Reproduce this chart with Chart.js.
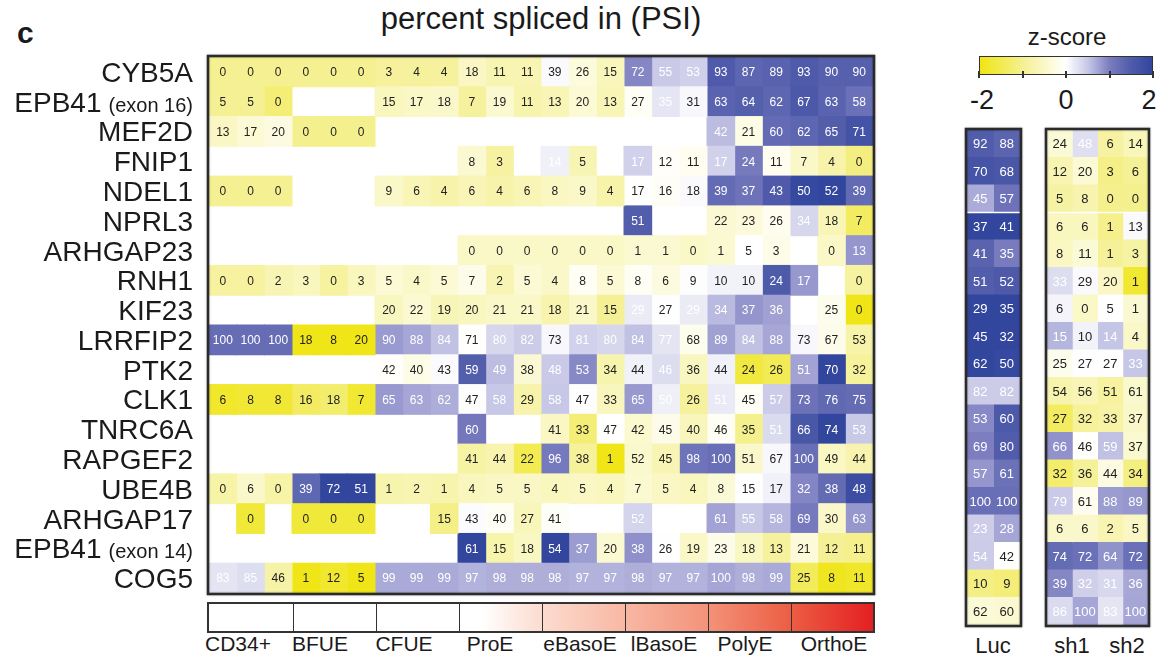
<!DOCTYPE html>
<html>
<head>
<meta charset="utf-8">
<script src="https://cdn.jsdelivr.net/npm/chart.js@4.4.1/dist/chart.umd.min.js"></script>
<style>
  body { margin: 0; background: #fff; font-family: "Liberation Sans", Arial, sans-serif; color: #1a1a1a; }
  #wrap { position: relative; width: 1157px; height: 656px; overflow: hidden; }
  .abs { position: absolute; white-space: nowrap; }
  canvas { position: absolute; }
</style>
</head>
<body>
<div id="wrap">
  <div class="abs" style="left:17px;top:18px;font-size:30px;line-height:30px;font-weight:bold">c</div>
  <div class="abs" style="left:291px;width:500px;top:3px;text-align:center;font-size:31px;line-height:31px">percent spliced in (PSI)</div>

  <canvas id="main" width="900" height="600" style="left:0;top:0;width:900px;height:600px"></canvas>
  <canvas id="luc" width="67" height="509" style="left:960px;top:123px;width:67px;height:509px"></canvas>
  <canvas id="sh" width="117" height="509" style="left:1040px;top:123px;width:117px;height:509px"></canvas>

  <div id="zbar" class="abs" style="left:979px;top:56px;width:174px;height:19px;box-sizing:border-box;border:1.5px solid #333"></div>
  <div id="zticks"></div>
  <div class="abs" style="left:1017px;width:100px;top:25px;text-align:center;font-size:24px;line-height:24px">z-score</div>

  <div id="stagebar" class="abs" style="left:207px;top:602px;width:668px;height:31px;box-sizing:border-box;border:2px solid #333"></div>
  <div id="stagelabels"></div>
  <div class="abs" style="left:953px;width:80px;top:634px;text-align:center;font-size:22px;line-height:24px">Luc</div>
  <div class="abs" style="left:1042px;width:60px;top:634px;text-align:center;font-size:22px;line-height:24px">sh1</div>
  <div class="abs" style="left:1097px;width:60px;top:634px;text-align:center;font-size:22px;line-height:24px">sh2</div>
</div>

<script>
const n = null;

// PSI per gene, columns = 8 stages x 3 replicates
const CYB5A      = [0,0,0, 0,0,0, 3,4,4, 18,11,11, 39,26,15, 72,55,53, 93,87,89, 93,90,90];
const EPB41_ex16 = [5,5,0, n,n,n, 15,17,18, 7,19,11, 13,20,13, 27,35,31, 63,64,62, 67,63,58];
const MEF2D      = [13,17,20, 0,0,0, n,n,n, n,n,n, n,n,n, n,n,n, 42,21,60, 62,65,71];
const FNIP1      = [n,n,n, n,n,n, n,n,n, 8,3,n, 14,5,n, 17,12,11, 17,24,11, 7,4,0];
const NDEL1      = [0,0,0, n,n,n, 9,6,4, 6,4,6, 8,9,4, 17,16,18, 39,37,43, 50,52,39];
const NPRL3      = [n,n,n, n,n,n, n,n,n, n,n,n, n,n,n, 51,n,n, 22,23,26, 34,18,7];
const ARHGAP23   = [n,n,n, n,n,n, n,n,n, 0,0,0, 0,0,0, 1,1,0, 1,5,3, n,0,13];
const RNH1       = [0,0,2, 3,0,3, 5,4,5, 7,2,5, 4,8,5, 8,6,9, 10,10,24, 17,n,0];
const KIF23      = [n,n,n, n,n,n, 20,22,19, 20,21,21, 18,21,15, 29,27,29, 34,37,36, n,25,0];
const LRRFIP2    = [100,100,100, 18,8,20, 90,88,84, 71,80,82, 73,81,80, 84,77,68, 89,84,88, 73,67,53];
const PTK2       = [n,n,n, n,n,n, 42,40,43, 59,49,38, 48,53,34, 44,46,36, 44,24,26, 51,70,32];
const CLK1       = [6,8,8, 16,18,7, 65,63,62, 47,58,29, 58,47,33, 65,50,26, 51,45,57, 73,76,75];
const TNRC6A     = [n,n,n, n,n,n, n,n,n, 60,n,n, 41,33,47, 42,45,40, 46,35,51, 66,74,53];
const RAPGEF2    = [n,n,n, n,n,n, n,n,n, 41,44,22, 96,38,1, 52,45,98, 100,51,67, 100,49,44];
const UBE4B      = [0,6,0, 39,72,51, 1,2,1, 4,5,5, 4,5,4, 7,5,4, 8,15,17, 32,38,48];
const ARHGAP17   = [n,0,n, 0,0,0, n,n,15, 43,40,27, 41,n,n, 52,n,n, 61,55,58, 69,30,63];
const EPB41_ex14 = [n,n,n, n,n,n, n,n,n, 61,15,18, 54,37,20, 38,26,19, 23,18,13, 21,12,11];
const COG5       = [83,85,46, 1,12,5, 99,99,99, 97,98,98, 98,97,97, 98,97,97, 100,98,99, 25,8,11];

const genes = ['CYB5A','EPB41','MEF2D','FNIP1','NDEL1','NPRL3','ARHGAP23','RNH1','KIF23',
               'LRRFIP2','PTK2','CLK1','TNRC6A','RAPGEF2','UBE4B','ARHGAP17','EPB41','COG5'];
const geneNotes = ['','(exon 16)','','','','','','','','','','','','','','','(exon 14)',''];
const psiRows = [CYB5A, EPB41_ex16, MEF2D, FNIP1, NDEL1, NPRL3, ARHGAP23, RNH1, KIF23,
                 LRRFIP2, PTK2, CLK1, TNRC6A, RAPGEF2, UBE4B, ARHGAP17, EPB41_ex14, COG5];

const stages = ['CD34+','BFUE','CFUE','ProE','eBasoE','lBasoE','PolyE','OrthoE'];

// knockdown panel (same gene order)
const luc = [[92,88],[70,68],[45,57],[37,41],[41,35],[51,52],[29,35],[45,32],[62,50],
             [82,82],[53,60],[69,80],[57,61],[100,100],[23,28],[54,42],[10,9],[62,60]];
const sh1 = [[24,48],[12,20],[5,8],[6,6],[8,11],[33,29],[6,0],[15,10],[25,27],
             [54,56],[27,32],[66,46],[32,36],[79,61],[6,6],[74,72],[39,32],[86,100]];
const sh2 = [[6,14],[3,6],[0,0],[1,13],[1,3],[20,1],[5,1],[14,4],[27,33],
             [51,61],[33,37],[59,37],[44,34],[88,89],[2,5],[64,72],[31,36],[83,100]];

const zTicks = [-2,-1,0,1,2];
const zTickLabels = ['-2','','0','','2'];

// label centres under the stage bar, as placed in the figure
const stageLabelX = [238, 320, 404, 490, 580, 664, 745, 834];

// colour ramps
const yellowStops = [[0,[255,255,255]],[0.5,[250,248,200]],[1,[245,240,148]],[1.5,[242,235,80]],[2,[240,229,22]]];
const blueStops   = [[0,[255,255,255]],[0.5,[200,200,231]],[1,[124,126,192]],[1.5,[80,92,170]],[2,[50,70,158]]];

function ramp(stops, t) {
  t = Math.max(0, Math.min(2, t));
  for (let i = 1; i < stops.length; i++) {
    if (t <= stops[i][0]) {
      const a = stops[i-1], b = stops[i];
      const f = (t - a[0]) / (b[0] - a[0]);
      const c = a[1].map((v, k) => Math.round(v + (b[1][k] - v) * f));
      return `rgb(${c[0]}, ${c[1]}, ${c[2]})`;
    }
  }
  const l = stops[stops.length-1][1];
  return `rgb(${l[0]}, ${l[1]}, ${l[2]})`;
}
function zColor(z) {
  return z < 0 ? ramp(yellowStops, -z) : ramp(blueStops, z);
}

// z-score per gene over every sample of that gene (stages + knockdowns)
const rowStats = psiRows.map((r, i) => {
  const v = r.concat(luc[i], sh1[i], sh2[i]).filter(x => x != null);
  const mean = v.reduce((a, b) => a + b, 0) / v.length;
  const sd = Math.sqrt(v.reduce((a, b) => a + (b - mean) * (b - mean), 0) / v.length);
  return { mean, sd };
});

const cellText = {
  id: 'cellText',
  afterDatasetsDraw(chart, args, opts) {
    const ctx = chart.ctx;
    ctx.save();
    ctx.font = opts.font;
    ctx.textAlign = 'center';
    ctx.textBaseline = 'middle';
    chart.data.datasets.forEach((ds, di) => {
      const meta = chart.getDatasetMeta(di);
      meta.data.forEach((bar, ri) => {
        const v = ds.values[ri];
        if (v == null) return;
        const p = bar.getProps(['x', 'y', 'base'], true);
        ctx.fillStyle = ds.textColors[ri];
        ctx.fillText(String(v), (p.x + p.base) / 2, p.y + 1);
      });
    });
    ctx.restore();
  }
};

const frame = {
  id: 'frame',
  afterDraw(chart, args, opts) {
    const a = chart.chartArea, ctx = chart.ctx;
    ctx.save();
    if (opts.splitAfter != null) {
      const y = chart.scales.y;
      const yy = (y.getPixelForValue(opts.splitAfter) + y.getPixelForValue(opts.splitAfter + 1)) / 2;
      ctx.strokeStyle = '#fff';
      ctx.lineWidth = 1.5;
      ctx.beginPath(); ctx.moveTo(a.left, yy); ctx.lineTo(a.right, yy); ctx.stroke();
    }
    ctx.shadowColor = 'rgba(0,0,0,0.35)';
    ctx.shadowBlur = 2;
    ctx.strokeStyle = '#2b2b2b';
    ctx.lineWidth = 2.5;
    ctx.strokeRect(a.left - 1, a.top - 1, a.right - a.left + 2, a.bottom - a.top + 2);
    ctx.restore();
  }
};

const rowLabels = {
  id: 'rowLabels',
  afterDraw(chart) {
    const ctx = chart.ctx, y = chart.scales.y;
    const right = chart.chartArea.left - 16;
    ctx.save();
    ctx.fillStyle = '#1a1a1a';
    ctx.textAlign = 'right';
    ctx.textBaseline = 'alphabetic';
    genes.forEach((g, i) => {
      const base = y.getPixelForValue(i) + 10;
      let x = right;
      if (geneNotes[i]) {
        ctx.font = '20px "Liberation Sans", Arial, sans-serif';
        ctx.fillText(geneNotes[i], x, base);
        x -= ctx.measureText(geneNotes[i]).width + 7;
      }
      ctx.font = '28px "Liberation Sans", Arial, sans-serif';
      ctx.fillText(g, x, base);
    });
    ctx.restore();
  }
};

function buildHeat(id, rows, pad, numFont, plugins, splitAfter) {
  const nCol = rows[0].length;
  const datasets = [];
  for (let c = 0; c < nCol; c++) {
    const vals = rows.map(r => r[c]);
    const z = vals.map((v, i) => v == null ? null : (v - rowStats[i].mean) / rowStats[i].sd);
    datasets.push({
      data: vals.map(v => v == null ? null : [c, c + 1]),
      values: vals,
      backgroundColor: z.map(zz => zz == null ? 'rgba(0,0,0,0)' : zColor(zz)),
      textColors: z.map(zz => zz != null && zz > 0.13 ? '#ffffff' : '#222222'),
      grouped: false,
      barPercentage: 1,
      categoryPercentage: 1,
      borderWidth: 0,
      inflateAmount: 0.5
    });
  }
  return new Chart(document.getElementById(id), {
    type: 'bar',
    data: { labels: rows.map((_, i) => genes[i] + ' ' + geneNotes[i] + i), datasets },
    options: {
      indexAxis: 'y',
      responsive: false,
      animation: false,
      events: [],
      layout: { padding: pad },
      scales: {
        x: { type: 'linear', min: 0, max: nCol, display: false },
        y: { type: 'category', display: false, offset: true }
      },
      plugins: {
        legend: { display: false },
        tooltip: { enabled: false },
        cellText: { font: numFont },
        frame: { splitAfter: splitAfter }
      }
    },
    plugins: [cellText, frame].concat(plugins)
  });
}

buildHeat('main', psiRows, { left: 209, top: 57, right: 27, bottom: 7 },
  '12px "Liberation Sans", Arial, sans-serif', [rowLabels], null);
buildHeat('luc', luc, { left: 7, top: 7, right: 7, bottom: 7 },
  '13px "Liberation Sans", Arial, sans-serif', [], 2);
buildHeat('sh', sh1.map((r, i) => r.concat(sh2[i])), { left: 7, top: 7, right: 9, bottom: 7 },
  '13px "Liberation Sans", Arial, sans-serif', [], 2);

// z-score colour bar
const zbar = document.getElementById('zbar');
const gStops = [];
for (let k = 0; k <= 16; k++) {
  const z = -2 + k * 0.25;
  gStops.push(`${zColor(z)} ${(k / 16 * 100).toFixed(1)}%`);
}
zbar.style.background = `linear-gradient(to right, ${gStops.join(', ')})`;
const zt = document.getElementById('zticks');
zTicks.forEach((t, i) => {
  const x = 979 + (t + 2) / 4 * 174;
  const tk = document.createElement('div');
  tk.className = 'abs';
  tk.style.cssText = `left:${x - 1}px;top:71px;width:2px;height:7px;background:#333`;
  zt.appendChild(tk);
  if (zTickLabels[i]) {
    const lb = document.createElement('div');
    lb.className = 'abs';
    lb.textContent = zTickLabels[i];
    lb.style.cssText = `left:${x - 30 + (i === 0 ? 3 : i === 4 ? -4 : 0)}px;width:60px;top:86px;text-align:center;font-size:27px;line-height:28px`;
    zt.appendChild(lb);
  }
});

// developmental stage bar
const sb = document.getElementById('stagebar');
sb.style.background = 'linear-gradient(to right, #fff 0%, #fff 41%, #fcdcd0 50%, #f8b8a4 62.5%, #f3937a 75%, #ec5e44 87.5%, #e41f22 100%)';
const colW = 664 / 24;
stages.forEach((s, i) => {
  if (i > 0) {
    const d = document.createElement('div');
    d.className = 'abs';
    d.style.cssText = `left:${i * 3 * colW + 0.5}px;top:0;width:1.6px;height:27px;background:#333`;
    sb.appendChild(d);
  }
  const lb = document.createElement('div');
  lb.className = 'abs';
  lb.textContent = s;
  lb.style.cssText = `left:${stageLabelX[i] - 50}px;width:100px;top:632px;text-align:center;font-size:21px;line-height:24px`;
  document.getElementById('stagelabels').appendChild(lb);
});
</script>
</body>
</html>
